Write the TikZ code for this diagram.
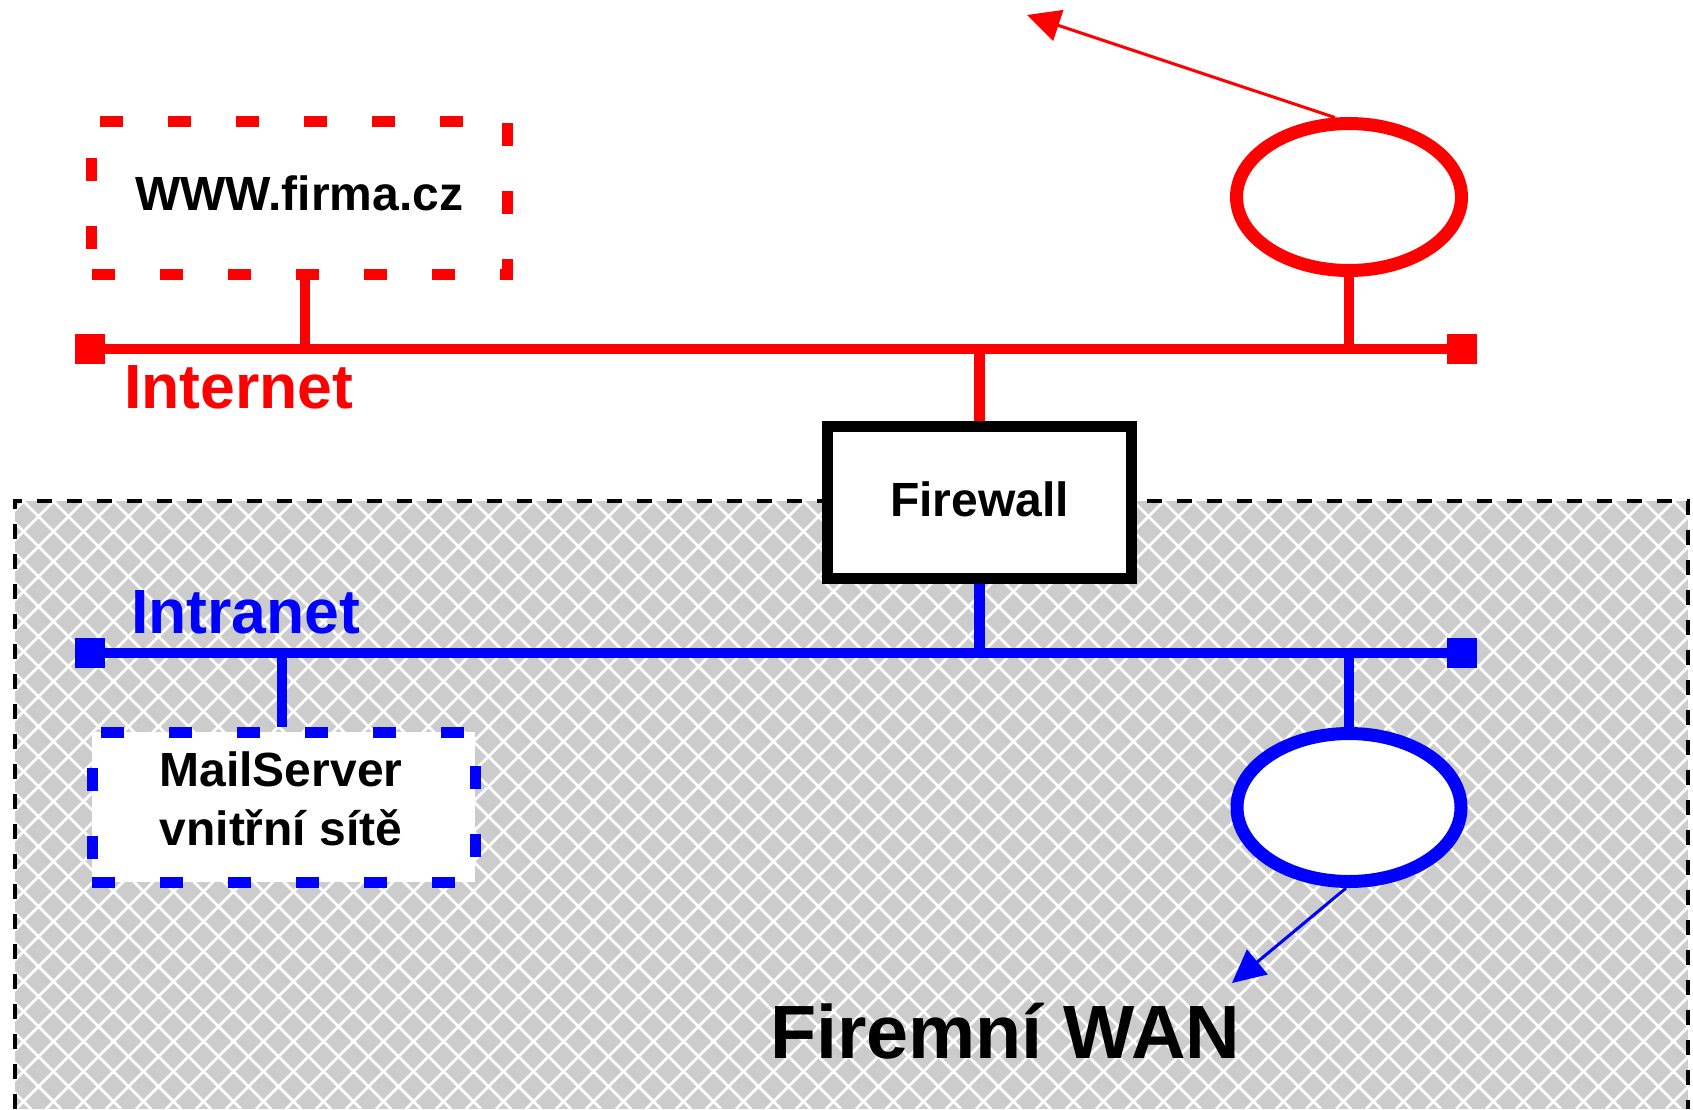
\documentclass[tikz,border=0pt]{standalone}
\usepackage{fontspec}
\setmainfont{Liberation Sans}
\usetikzlibrary{arrows.meta,shapes.geometric}
\definecolor{netred}{RGB}{255,0,0}
\definecolor{netblue}{RGB}{0,0,255}
\definecolor{hatchgray}{RGB}{204,204,204}
\begin{document}
\begin{tikzpicture}[x=1pt,y=-1pt,
  bus/.style={line width=10.5pt},
  term/.style={rectangle,minimum size=30pt,inner sep=0pt,outer sep=0pt},
  hostbox/.style={rectangle,line width=11pt,dash pattern=on 23pt off 45pt,fill=white,inner sep=0pt,outer sep=5.5pt},
  fwbox/.style={rectangle,draw=black,line width=11pt,fill=white,inner sep=0pt,outer sep=5.5pt,
    minimum width=304pt,minimum height=152pt,font=\bfseries\fontsize{48pt}{56pt}\selectfont,
    text height=28pt,text depth=0pt},
  cloud/.style={ellipse,line width=13pt,fill=white,inner sep=0pt,outer sep=6.5pt,
    minimum width=225pt,minimum height=147pt},
  flow/.style={line width=3pt,-{Triangle[length=33pt,width=32pt]}},
  lbl/.style={inner sep=0pt,font=\bfseries\fontsize{62.5pt}{70pt}\selectfont,anchor=base west},
  boxtext/.style={inner sep=0pt,font=\bfseries\fontsize{48pt}{59pt}\selectfont},
  zone/.style={draw=black,line width=3.5pt,dash pattern=on 15pt off 15pt},
  hatch/.style={white,line width=2.6pt},
]
\useasboundingbox (0,0) rectangle (1693,1109);

% hatched intranet zone
\begin{scope}
  \clip (15,501) rectangle (1688,1109);
  \fill[hatchgray] (15,501) rectangle (1688,1109);
  \foreach \k in {-21,...,56} {
    \draw[hatch] (\k*30+23,501) -- ++(608,608);
  }
  \foreach \k in {0,...,77} {
    \draw[hatch] (\k*30+24,501) -- ++(-608,608);
  }
\end{scope}
\draw[zone] (15,1109) -- (15,501) -- (1688,501) -- (1688,1109);

% terminators
\node[term,fill=netred] (rL) at (90,349) {};
\node[term,fill=netred] (rR) at (1462,349) {};
\node[term,fill=netblue] (bL) at (90,653) {};
\node[term,fill=netblue] (bR) at (1462,653) {};

% devices
\node[hostbox,draw=netred,minimum width=415.5pt,minimum height=152.5pt,
  font=\bfseries\fontsize{48pt}{56pt}\selectfont,text height=24.5pt,text depth=0pt]
  (www) at (299.25,197.75) {WWW.firma.cz};
\node[fwbox] (fw) at (979.5,502) {Firewall};
\node[hostbox,draw=netblue,minimum width=383pt,minimum height=150pt] (mail) at (283.5,807) {};
\node[boxtext,align=center,anchor=north] (mailtxt) at (281,752) {MailServer\\vnitřní sítě};
\node[cloud,draw=netred] (redE) at (1349,197) {};
\node[cloud,draw=netblue,minimum width=224pt,minimum height=148pt] (blueE) at (1349,807.5) {};

% buses
\draw[bus,netred] (rL) -- (rR);
\draw[bus,netblue] (bL) -- (bR);

% taps
\coordinate (tapW) at (305,349);
\coordinate (tapM) at (282,653);
\draw[bus,netred] (tapW) -- (tapW |- www.south);
\draw[bus,netred] (fw.north |- rL) -- (fw.north);
\draw[bus,netred] (redE.south |- rL) -- (redE.south);
\draw[bus,netblue] (fw.south) -- (fw.south |- bL);
\draw[bus,netblue] (tapM) -- (tapM |- mail.north);
\draw[bus,netblue] (blueE.north |- bL) -- (blueE.north);

% outgoing arrows
\coordinate (redTip) at (1027,15);
\coordinate (blueTip) at (1232,983);
\draw[flow,netred] (redE.100) -- (redTip);
\draw[flow,netblue] (blueE.268) -- (blueTip);

% labels
\node[lbl,text=netred] (inet) at (124,408) {Internet};
\node[lbl,text=netblue] (intra) at (131,633) {Intranet};
\node[lbl,font=\bfseries\fontsize{75.5pt}{80pt}\selectfont] (wan) at (770,1058) {Firemní WAN};
\end{tikzpicture}
\end{document}
